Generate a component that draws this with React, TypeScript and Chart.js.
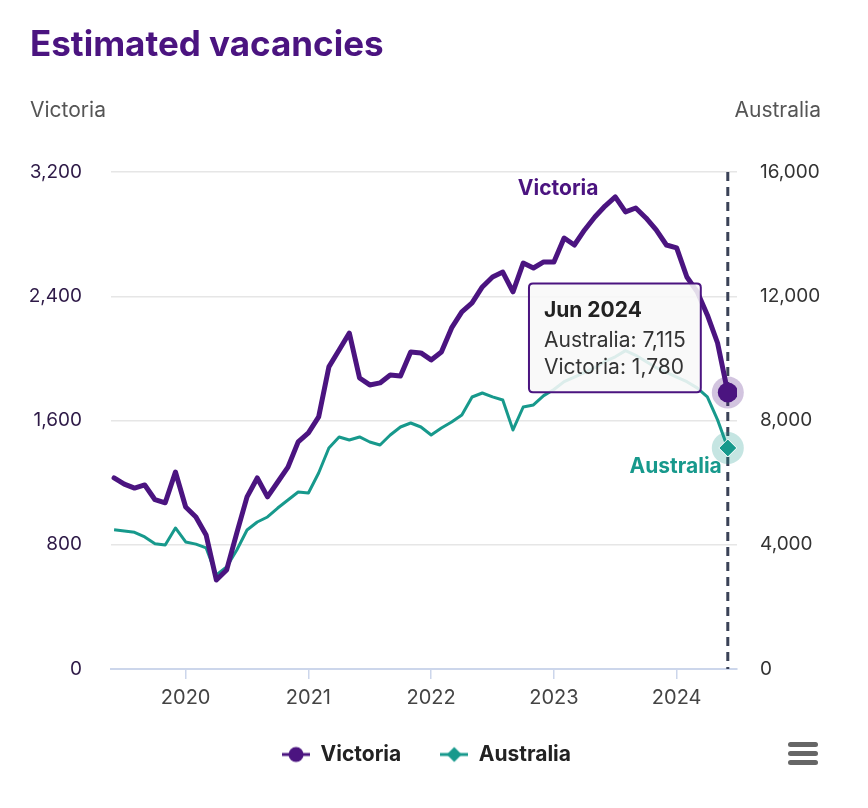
import React, { useEffect, useRef } from 'react';
import { Chart, registerables, Tooltip } from 'chart.js';

Chart.register(...registerables);

const FONT = 'Inter, "Noto Sans", sans-serif';
const PURPLE = '#4b1480';
const TEAL = '#17998c';

const months = [
  'Jun 2019', 'Jul 2019', 'Aug 2019', 'Sep 2019', 'Oct 2019', 'Nov 2019', 'Dec 2019',
  'Jan 2020', 'Feb 2020', 'Mar 2020', 'Apr 2020', 'May 2020', 'Jun 2020', 'Jul 2020', 'Aug 2020', 'Sep 2020', 'Oct 2020', 'Nov 2020', 'Dec 2020',
  'Jan 2021', 'Feb 2021', 'Mar 2021', 'Apr 2021', 'May 2021', 'Jun 2021', 'Jul 2021', 'Aug 2021', 'Sep 2021', 'Oct 2021', 'Nov 2021', 'Dec 2021',
  'Jan 2022', 'Feb 2022', 'Mar 2022', 'Apr 2022', 'May 2022', 'Jun 2022', 'Jul 2022', 'Aug 2022', 'Sep 2022', 'Oct 2022', 'Nov 2022', 'Dec 2022',
  'Jan 2023', 'Feb 2023', 'Mar 2023', 'Apr 2023', 'May 2023', 'Jun 2023', 'Jul 2023', 'Aug 2023', 'Sep 2023', 'Oct 2023', 'Nov 2023', 'Dec 2023',
  'Jan 2024', 'Feb 2024', 'Mar 2024', 'Apr 2024', 'May 2024', 'Jun 2024',
];

const victoria = [
  1230, 1190, 1165, 1185, 1090, 1070, 1268, 1043, 979, 863,
  573, 637, 876, 1108, 1230, 1108, 1204, 1300, 1462, 1520,
  1623, 1945, 2054, 2163, 1874, 1829, 1842, 1893, 1887, 2041,
  2035, 1990, 2041, 2196, 2299, 2357, 2460, 2524, 2556, 2428,
  2614, 2582, 2621, 2621, 2775, 2730, 2827, 2910, 2981, 3040,
  2943, 2968, 2904, 2827, 2730, 2711, 2524, 2430, 2280, 2099, 1780,
];

const australia = [
  4480, 4440, 4400, 4250, 4030, 3990, 4540, 4090, 4020, 3900,
  3030, 3284, 3831, 4475, 4733, 4894, 5183, 5441, 5699, 5667,
  6310, 7115, 7470, 7373, 7470, 7308, 7212, 7534, 7791, 7920,
  7791, 7534, 7759, 7952, 8178, 8757, 8886, 8760, 8660, 7695,
  8435, 8500, 8800, 9000, 9250, 9400, 9550, 9700, 9900, 10050,
  10250, 10100, 9900, 9700, 9550, 9400, 9250, 9050, 8760, 8020, 7115,
];

const yearTickIndex = [7, 19, 31, 43, 55];
const yearLabels = ['2020', '2021', '2022', '2023', '2024'];
const victoriaTicks = [0, 800, 1600, 2400, 3200];
const australiaTicks = [0, 4000, 8000, 12000, 16000];

const fmt = (v: number) => Math.round(v).toLocaleString('en-US');

function makeLegendIcon(color: string, shape: 'circle' | 'diamond') {
  const c = document.createElement('canvas');
  c.width = 28;
  c.height = 18;
  const ctx = c.getContext('2d')!;
  ctx.strokeStyle = color;
  ctx.lineWidth = 3;
  ctx.beginPath();
  ctx.moveTo(0, 9);
  ctx.lineTo(28, 9);
  ctx.stroke();
  ctx.fillStyle = color;
  ctx.beginPath();
  if (shape === 'circle') {
    ctx.arc(14, 9, 7.5, 0, Math.PI * 2);
  } else {
    ctx.moveTo(14, 1.5);
    ctx.lineTo(21.5, 9);
    ctx.lineTo(14, 16.5);
    ctx.lineTo(6.5, 9);
    ctx.closePath();
  }
  ctx.fill();
  return c;
}

(Tooltip.positioners as any).pinned = function (items: any[]) {
  if (!items.length) return false;
  const v = items.find((i) => i.datasetIndex === 0) || items[0];
  return { x: v.element.x - 31, y: v.element.y - 109, xAlign: 'right', yAlign: 'top' };
};

const overlayPlugin = {
  id: 'overlay',
  afterLayout(chart: any) {
    if (chart.legend) {
      chart.legend.left -= 7.5;
      chart.legend.right -= 7.5;
    }
  },
  beforeDatasetsDraw(chart: any) {
    const { ctx, chartArea } = chart;
    const last = victoria.length - 1;
    const vp = chart.getDatasetMeta(0).data[last];
    const ap = chart.getDatasetMeta(1).data[last];
    ctx.save();
    ctx.strokeStyle = '#3a4257';
    ctx.lineWidth = 3;
    ctx.setLineDash([9, 6]);
    ctx.beginPath();
    ctx.moveTo(vp.x, chartArea.top);
    ctx.lineTo(vp.x, chartArea.bottom);
    ctx.stroke();
    ctx.setLineDash([]);
    ctx.fillStyle = 'rgba(75,20,128,0.25)';
    ctx.beginPath();
    ctx.arc(vp.x, vp.y, 16, 0, Math.PI * 2);
    ctx.fill();
    ctx.fillStyle = 'rgba(23,153,140,0.25)';
    ctx.beginPath();
    ctx.arc(ap.x, ap.y, 16, 0, Math.PI * 2);
    ctx.fill();
    ctx.restore();
  },
  afterDatasetsDraw(chart: any) {
    const { ctx, chartArea } = chart;
    const last = victoria.length - 1;
    const vPeakLabel = chart.getDatasetMeta(0).data[44];
    const ap = chart.getDatasetMeta(1).data[last];
    ctx.save();
    ctx.font = `bold 21px ${FONT}`;
    ctx.textBaseline = 'middle';
    ctx.fillStyle = PURPLE;
    ctx.textAlign = 'center';
    ctx.fillText('Victoria', vPeakLabel.x - 6, chartArea.top + 17);
    ctx.fillStyle = TEAL;
    ctx.textAlign = 'right';
    ctx.fillText('Australia', ap.x - 6, ap.y + 19);
    ctx.restore();
  },
};

export default function App() {
  const ref = useRef<HTMLCanvasElement | null>(null);

  useEffect(() => {
    if (!ref.current) return;
    const last = victoria.length - 1;
    const icons = [makeLegendIcon(PURPLE, 'circle'), makeLegendIcon(TEAL, 'diamond')];
    const chart = new Chart(ref.current, {
      type: 'line',
      data: {
        datasets: [
          {
            label: 'Victoria',
            data: victoria.map((v, i) => ({ x: i, y: v })),
            yAxisID: 'y',
            borderColor: PURPLE,
            backgroundColor: PURPLE,
            borderWidth: 5,
            tension: 0,
            borderJoinStyle: 'round',
            borderCapStyle: 'round',
            pointStyle: 'circle',
            pointRadius: victoria.map((_, i) => (i === last ? 10 : 0)),
            pointBorderWidth: 0,
            pointBackgroundColor: PURPLE,
          },
          {
            label: 'Australia',
            data: australia.map((v, i) => ({ x: i, y: v })),
            yAxisID: 'y1',
            borderColor: TEAL,
            backgroundColor: TEAL,
            borderWidth: 3,
            tension: 0,
            borderJoinStyle: 'round',
            pointStyle: 'rectRot',
            pointRadius: australia.map((_, i) => (i === last ? 9 : 0)),
            pointBorderWidth: 1,
            pointBorderColor: '#ffffff',
            pointBackgroundColor: TEAL,
          },
        ],
      },
      options: {
        responsive: false,
        animation: false,
        events: [],
        layout: { padding: { top: 172, left: 0, right: 0, bottom: 33 } },
        scales: {
          x: {
            type: 'linear',
            min: -0.3,
            max: 60.9,
            afterBuildTicks: (s: any) => {
              s.ticks = yearTickIndex.map((v) => ({ value: v }));
            },
            afterFit: (s: any) => {
              s.height = 36;
            },
            ticks: {
              callback: (_v: any, i: number) => yearLabels[i],
              font: { family: FONT, size: 20 },
              color: '#444444',
              padding: 7,
              maxRotation: 0,
              autoSkip: false,
            },
            grid: { drawOnChartArea: false, drawTicks: true, tickLength: 10, color: '#ccd6eb', lineWidth: 1.5 },
            border: { display: true, color: '#ccd6eb', width: 2 },
          },
          y: {
            position: 'left',
            min: 0,
            max: 3200,
            afterBuildTicks: (s: any) => {
              s.ticks = victoriaTicks.map((v) => ({ value: v }));
            },
            afterFit: (s: any) => {
              s.width = 111;
            },
            ticks: {
              callback: (v: any) => fmt(Number(v)),
              font: { family: FONT, size: 19 },
              color: '#2e1a47',
              padding: 29,
            },
            grid: { color: '#e6e6e6', lineWidth: 1.5, drawTicks: false },
            border: { display: false },
          },
          y1: {
            position: 'right',
            min: 0,
            max: 16000,
            afterBuildTicks: (s: any) => {
              s.ticks = australiaTicks.map((v) => ({ value: v }));
            },
            afterFit: (s: any) => {
              s.width = 131;
            },
            ticks: {
              callback: (v: any) => fmt(Number(v)),
              font: { family: FONT, size: 19 },
              color: '#333333',
              padding: 23,
            },
            grid: { drawOnChartArea: false, drawTicks: false },
            border: { display: false },
          },
        },
        plugins: {
          legend: {
            position: 'bottom',
            labels: {
              usePointStyle: true,
              pointStyleWidth: 28,
              padding: 39,
              font: { family: FONT, size: 21, weight: 'bold' },
              color: '#222222',
              generateLabels: (c: any) =>
                c.data.datasets.map((ds: any, i: number) => ({
                  text: ds.label,
                  pointStyle: icons[i],
                  fillStyle: ds.borderColor,
                  strokeStyle: ds.borderColor,
                  lineWidth: 0,
                  hidden: false,
                  datasetIndex: i,
                  fontColor: '#222222',
                })),
            },
          },
          tooltip: {
            enabled: true,
            position: 'pinned' as any,
            mode: 'index',
            intersect: false,
            xAlign: 'right',
            yAlign: 'top',
            caretSize: 0,
            caretPadding: 0,
            backgroundColor: 'rgba(248,248,248,0.88)',
            borderColor: PURPLE,
            borderWidth: 2,
            cornerRadius: 4,
            padding: { left: 15, right: 15, top: 15, bottom: 12 },
            titleFont: { family: FONT, size: 21, weight: 'bold' },
            titleColor: '#222222',
            titleMarginBottom: 4,
            bodyFont: { family: FONT, size: 21 },
            bodyColor: '#333333',
            bodySpacing: 2,
            displayColors: false,
            itemSort: (a: any, b: any) => b.datasetIndex - a.datasetIndex,
            callbacks: {
              title: (items: any[]) => months[items[0].dataIndex],
              label: (item: any) => `${item.dataset.label}: ${fmt(item.parsed.y)}`,
            },
          },
        },
      },
      plugins: [overlayPlugin],
    } as any);

    chart.tooltip!.setActiveElements(
      [
        { datasetIndex: 0, index: last },
        { datasetIndex: 1, index: last },
      ],
      { x: 0, y: 0 }
    );
    chart.update();

    return () => chart.destroy();
  }, []);

  return (
    <div
      style={{
        position: 'absolute',
        left: 0,
        top: 0,
        width: 868,
        height: 808,
        background: '#ffffff',
        fontFamily: FONT,
        overflow: 'hidden',
      }}
    >
      <canvas ref={ref} width={868} height={808} style={{ position: 'absolute', left: 0, top: 0, width: 868, height: 808 }} />
      <div
        style={{
          position: 'absolute',
          left: 30,
          top: 21,
          fontSize: 35,
          lineHeight: '44px',
          fontWeight: 700,
          color: PURPLE,
          whiteSpace: 'nowrap',
        }}
      >
        Estimated vacancies
      </div>
      <div style={{ position: 'absolute', left: 30, top: 97, fontSize: 21, lineHeight: '26px', color: '#555555' }}>
        Victoria
      </div>
      <div style={{ position: 'absolute', right: 47, top: 97, fontSize: 21, lineHeight: '26px', color: '#555555' }}>
        Australia
      </div>
      <div style={{ position: 'absolute', left: 788, top: 742, width: 30, height: 24 }}>
        {[0, 1, 2].map((i) => (
          <div
            key={i}
            style={{
              position: 'absolute',
              left: 0,
              top: i * 9,
              width: 30,
              height: 5,
              borderRadius: 3,
              background: '#666666',
            }}
          />
        ))}
      </div>
    </div>
  );
}
